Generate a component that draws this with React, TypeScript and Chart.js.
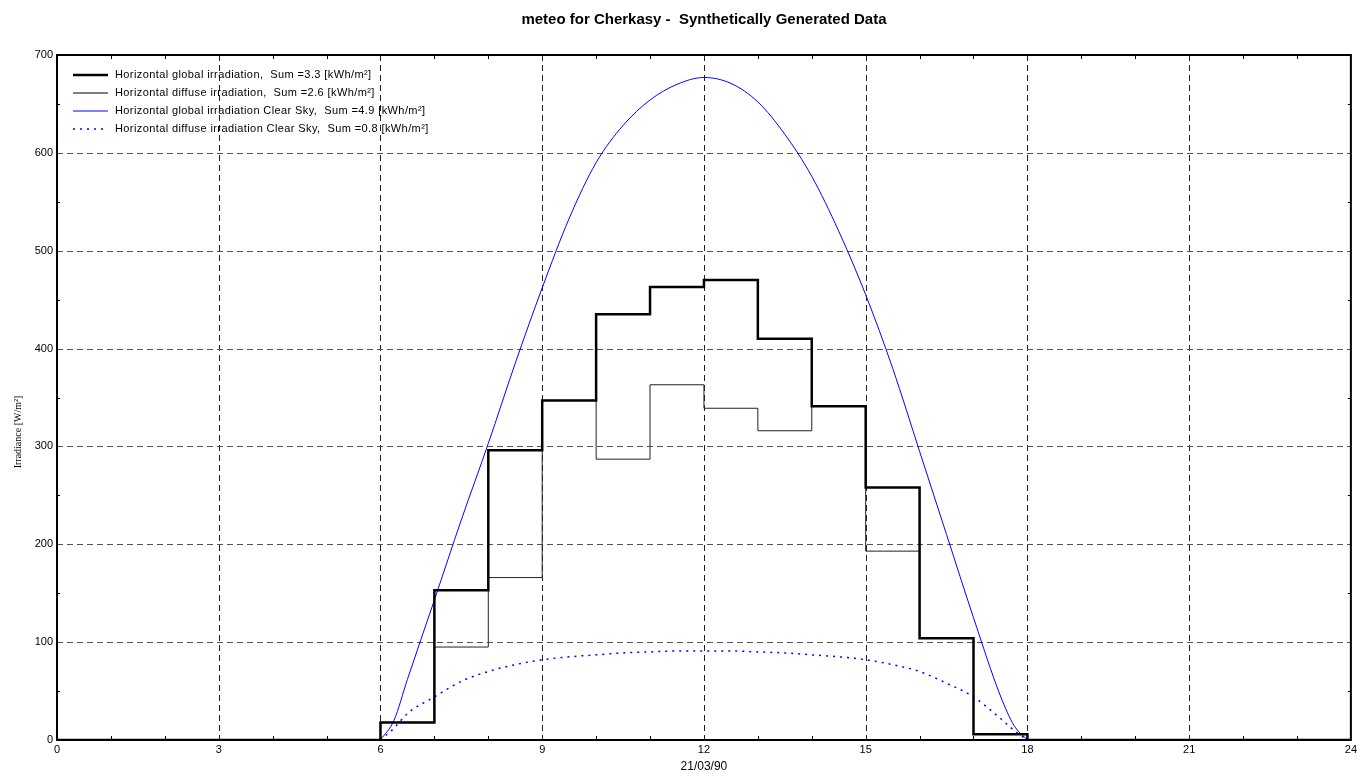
import React, { useEffect, useRef } from "react";
import { Chart, registerables } from "chart.js";

Chart.register(...registerables);

const TITLE = "meteo for Cherkasy -  Synthetically Generated Data";
const Y_TITLE = "Irradiance [W/m²]";
const X_TITLE = "21/03/90";

const hours = [0, 1, 2, 3, 4, 5, 6, 7, 8, 9, 10, 11, 12, 13, 14, 15, 16, 17, 18, 19, 20, 21, 22, 23, 24];
const globalIrr = [0, 0, 0, 0, 0, 0, 18, 153, 296, 347, 435, 463, 470, 410, 341, 258, 104, 6, 0, 0, 0, 0, 0, 0, 0];
const diffuseIrr = [0, 0, 0, 0, 0, 0, 18, 95, 166, 347, 287, 363, 339, 316, 341, 193, 104, 6, 0, 0, 0, 0, 0, 0, 0];

const clearTimes = [6, 6.25, 6.5, 7, 7.5, 8, 8.5, 9, 9.5, 10, 10.5, 11, 11.5, 12, 12.5, 13, 13.5, 14, 14.5, 15, 15.5, 16, 16.5, 17, 17.5, 17.75, 18];
const clearGlobal = [0, 20, 62, 143, 225, 303, 385, 462, 533, 590, 628, 654, 670, 677, 671, 652, 619, 576, 520, 455, 380, 295, 210, 125, 45, 15, 0];
const clearDiffuse = [0, 12, 27, 44, 60, 70, 77, 82, 85, 87, 89, 90, 91, 91, 91, 90, 89, 87, 85, 82, 77, 70, 58, 44, 22, 10, 0];

const legendLabels = [
  "Horizontal global irradiation,  Sum =3.3 [kWh/m²]",
  "Horizontal diffuse irradiation,  Sum =2.6 [kWh/m²]",
  "Horizontal global irradiation Clear Sky,  Sum =4.9 [kWh/m²]",
  "Horizontal diffuse irradiation Clear Sky,  Sum =0.8 [kWh/m²]",
];

const X_MAJOR = [0, 3, 6, 9, 12, 15, 18, 21, 24];
const Y_MAJOR = [0, 100, 200, 300, 400, 500, 600, 700];

const SANS = "'Liberation Sans', Arial, sans-serif";

const decorPlugin = {
  id: "decor",
  beforeDatasetsDraw(chart: any) {
    const { ctx, chartArea: a, scales } = chart;
    const xs = scales.x;
    const ys = scales.y;
    ctx.save();
    ctx.lineWidth = 1;
    ctx.setLineDash([6, 4]);
    ctx.strokeStyle = "#222";
    X_MAJOR.forEach((v) => {
      if (v <= 0 || v >= 24) return;
      const px = Math.round(xs.getPixelForValue(v)) + 0.5;
      ctx.beginPath();
      ctx.moveTo(px, a.top);
      ctx.lineTo(px, a.bottom);
      ctx.stroke();
    });
    ctx.strokeStyle = "#555";
    Y_MAJOR.forEach((v) => {
      if (v <= 0 || v >= 700) return;
      const py = Math.round(ys.getPixelForValue(v)) + 0.5;
      ctx.beginPath();
      ctx.moveTo(a.left, py);
      ctx.lineTo(a.right, py);
      ctx.stroke();
    });
    ctx.restore();
  },
  afterDatasetsDraw(chart: any) {
    const { ctx, chartArea: a, scales } = chart;
    const xs = scales.x;
    const ys = scales.y;
    ctx.save();
    ctx.setLineDash([]);
    ctx.strokeStyle = "#000";
    ctx.lineWidth = 1;
    for (let h = 1; h < 24; h++) {
      if (h % 3 === 0) continue;
      const px = Math.round(xs.getPixelForValue(h)) + 0.5;
      ctx.beginPath();
      ctx.moveTo(px, a.bottom);
      ctx.lineTo(px, a.bottom - 4);
      ctx.moveTo(px, a.top);
      ctx.lineTo(px, a.top + 4);
      ctx.stroke();
    }
    for (let v = 50; v < 700; v += 100) {
      const py = Math.round(ys.getPixelForValue(v)) + 0.5;
      ctx.beginPath();
      ctx.moveTo(a.left, py);
      ctx.lineTo(a.left + 3, py);
      ctx.moveTo(a.right, py);
      ctx.lineTo(a.right - 3, py);
      ctx.stroke();
    }
    ctx.lineWidth = 2;
    ctx.strokeRect(a.left, a.top, a.right - a.left, a.bottom - a.top);

    // legend
    const lx0 = a.left + 16;
    const lx1 = a.left + 51;
    const tx = a.left + 58;
    const ly0 = a.top + 20;
    const step = 18;
    const styles = [
      { color: "#000", width: 2.5, dash: [] as number[] },
      { color: "#000", width: 1, dash: [] as number[] },
      { color: "#0000ff", width: 1, dash: [] as number[] },
      { color: "#0000ff", width: 1.5, dash: [2, 5] },
    ];
    ctx.font = `11px ${SANS}`;
    (ctx as any).letterSpacing = "0.4px";
    ctx.textBaseline = "middle";
    ctx.textAlign = "left";
    legendLabels.forEach((lab, i) => {
      const y = ly0 + i * step;
      const s = styles[i];
      ctx.strokeStyle = s.color;
      ctx.lineWidth = s.width;
      ctx.setLineDash(s.dash);
      ctx.beginPath();
      ctx.moveTo(lx0, y);
      ctx.lineTo(lx1, y);
      ctx.stroke();
      ctx.setLineDash([]);
      ctx.fillStyle = "#000";
      ctx.fillText(lab, tx, y);
    });
    (ctx as any).letterSpacing = "0px";

    ctx.fillStyle = "#000";
    ctx.font = `bold 15px ${SANS}`;
    ctx.textAlign = "center";
    ctx.textBaseline = "middle";
    ctx.fillText(TITLE, (a.left + a.right) / 2, 20);
    ctx.font = `12px ${SANS}`;
    ctx.fillText(X_TITLE, xs.getPixelForValue(12), 767);
    ctx.save();
    ctx.translate(18, 432);
    ctx.rotate(-Math.PI / 2);
    ctx.font = `10px 'Liberation Serif', 'Times New Roman', serif`;
    ctx.fillText(Y_TITLE, 0, 0);
    ctx.restore();
    ctx.restore();
  },
};

export default function App() {
  const ref = useRef<HTMLCanvasElement>(null);
  useEffect(() => {
    if (!ref.current) return;
    const chart = new Chart(ref.current, {
      type: "scatter",
      data: {
        datasets: [
          {
            label: legendLabels[0],
            data: hours.map((h, i) => ({ x: h, y: globalIrr[i] })),
            showLine: true,
            stepped: true,
            borderColor: "#000",
            borderWidth: 2.5,
            pointRadius: 0,
          },
          {
            label: legendLabels[1],
            data: hours.map((h, i) => ({ x: h, y: diffuseIrr[i] })),
            showLine: true,
            stepped: true,
            borderColor: "#222",
            borderWidth: 1,
            pointRadius: 0,
          },
          {
            label: legendLabels[2],
            data: clearTimes.map((t, i) => ({ x: t, y: clearGlobal[i] })),
            showLine: true,
            cubicInterpolationMode: "monotone",
            borderColor: "#0000ff",
            borderWidth: 1,
            pointRadius: 0,
          },
          {
            label: legendLabels[3],
            data: clearTimes.map((t, i) => ({ x: t, y: clearDiffuse[i] })),
            showLine: true,
            cubicInterpolationMode: "monotone",
            borderColor: "#0000ff",
            borderWidth: 1.5,
            borderDash: [2, 5],
            pointRadius: 0,
          },
        ],
      } as any,
      options: {
        animation: false,
        responsive: false,
        layout: { padding: { left: 12, right: 9, top: 55, bottom: 0 } },
        plugins: {
          legend: { display: false },
          title: { display: false },
          tooltip: { enabled: false },
        },
        scales: {
          x: {
            type: "linear",
            min: 0,
            max: 24,
            afterBuildTicks: (s: any) => {
              s.ticks = X_MAJOR.map((v) => ({ value: v }));
            },
            afterFit: (s: any) => {
              s.height = 34;
            },
            grid: { display: false, drawTicks: false },
            border: { display: false },
            ticks: {
              padding: 3,
              color: "#000",
              font: { family: SANS, size: 11 },
              maxRotation: 0,
              autoSkip: false,
            },
          },
          y: {
            type: "linear",
            min: 0,
            max: 700,
            afterBuildTicks: (s: any) => {
              s.ticks = Y_MAJOR.map((v) => ({ value: v }));
            },
            afterFit: (s: any) => {
              s.width = 45;
            },
            grid: { display: false, drawTicks: false },
            border: { display: false },
            ticks: {
              padding: 4,
              color: "#000",
              font: { family: SANS, size: 11 },
              autoSkip: false,
            },
          },
        },
      } as any,
      plugins: [decorPlugin],
    });
    return () => chart.destroy();
  }, []);
  return (
    <div style={{ position: "absolute", left: 0, top: 0, width: 1360, height: 774, background: "#fff" }}>
      <canvas ref={ref} width={1360} height={774} />
    </div>
  );
}
